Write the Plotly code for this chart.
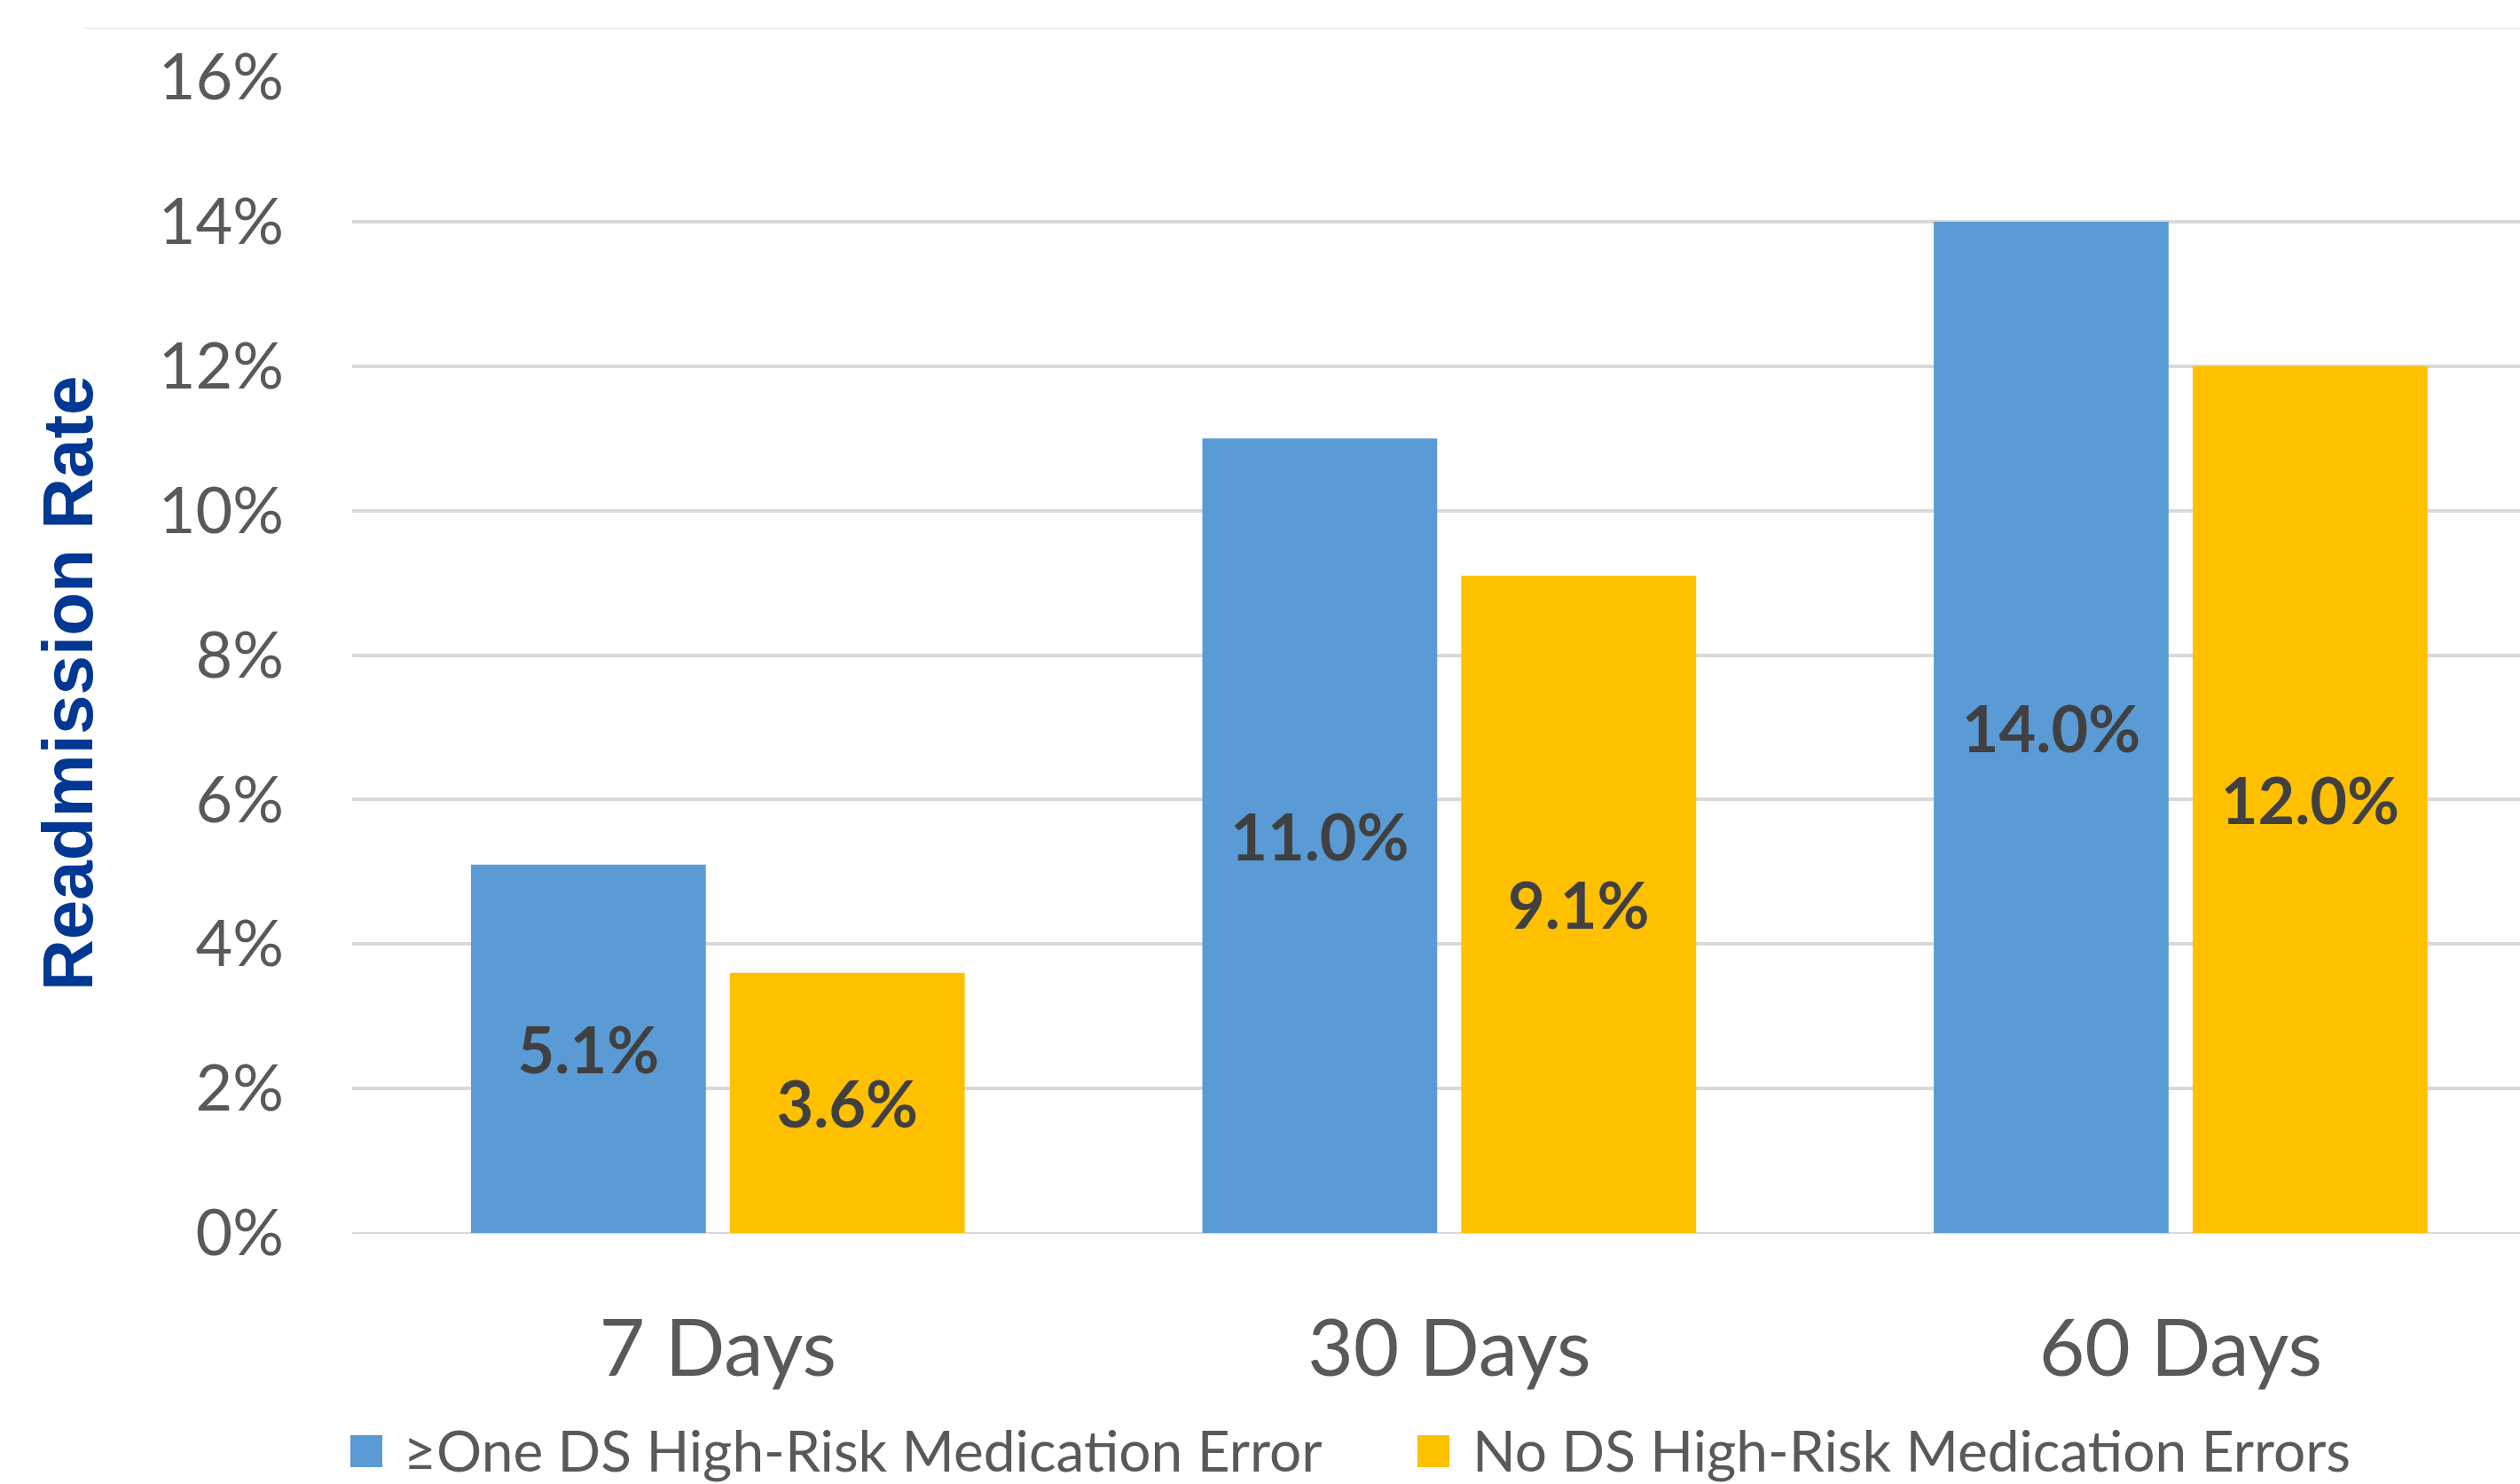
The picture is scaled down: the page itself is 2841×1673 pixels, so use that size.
import plotly.graph_objects as go

# ---- data ----
categories = ["7 Days", "30 Days", "60 Days"]
series_names = ["≥One DS High-Risk Medication Error", "No DS High-Risk Medication Errors"]
series_colors = ["#5B9BD5", "#FFC000"]
error_rates = [0.051, 0.110, 0.140]
no_error_rates = [0.036, 0.091, 0.120]
series_values = [error_rates, no_error_rates]
y_tick_values = [0, 0.02, 0.04, 0.06, 0.08, 0.10, 0.12, 0.14, 0.16]
y_title = "Readmission Rate"

W, H = 2841, 1673
ML, MR, MT, MB = 397, 0, 87, 283
PW = W - ML - MR
PH = H - MT - MB

def px_x(px):
    return (px - ML) / PW

def px_y(py):
    return (H - MB - py) / PH

fig = go.Figure()
for name, color, vals in zip(series_names, series_colors, series_values):
    fig.add_trace(go.Bar(
        x=categories, y=vals, name=name,
        marker=dict(color=color, line=dict(width=0)),
        texttemplate="%{y:.1%}",
        textposition="inside",
        insidetextanchor="middle",
        textangle=0,
        textfont=dict(family="Lato", size=72, color="#404040", weight="bold"),
        showlegend=False,
    ))

fig.update_layout(
    width=W, height=H,
    margin=dict(l=ML, r=MR, t=MT, b=MB, pad=0),
    paper_bgcolor="white", plot_bgcolor="white",
    barmode="group", bargap=0.292, bargroupgap=0.093,
    font=dict(family="Lato", color="#595959"),
    uniformtext=dict(mode=False),
)
fig.update_xaxes(
    range=[-0.5, 2.464], showgrid=False, zeroline=False,
    showline=False, ticks="",
    tickfont=dict(family="Lato", size=89, color="#595959"),
    ticklabelstandoff=71,
)
fig.update_yaxes(
    range=[0, 0.16], tickvals=y_tick_values, tickformat=".0%",
    showgrid=True, gridcolor="#D9D9D9", gridwidth=3.5,
    zeroline=True, zerolinecolor="#D9D9D9", zerolinewidth=2,
    showline=False, ticks="",
    tickfont=dict(family="Lato", size=72, color="#595959"),
    ticklabelstandoff=76,
)

# y-axis title
fig.add_annotation(
    text=y_title, textangle=-90, showarrow=False,
    xref="paper", yref="paper", x=px_x(77), y=px_y(770),
    xanchor="center", yanchor="middle",
    font=dict(family="Liberation Sans", size=80, color="#003893", weight="bold"),
)

# faint chart border at top
fig.add_shape(type="line", xref="paper", yref="paper",
              x0=px_x(95), x1=1, y0=px_y(32), y1=px_y(32),
              line=dict(color="#EEEEEE", width=2))

# legend (manual, large swatches)
legend_swatch_x = [395, 1598]
legend_text_x = [453, 1658]
for name, color, sx, tx in zip(series_names, series_colors, legend_swatch_x, legend_text_x):
    fig.add_shape(type="rect", xref="paper", yref="paper",
                  x0=px_x(sx), x1=px_x(sx + 36), y0=px_y(1618), y1=px_y(1654),
                  fillcolor=color, line=dict(width=0))
    fig.add_annotation(
        text=name, showarrow=False, xref="paper", yref="paper",
        x=px_x(tx), y=px_y(1634), xanchor="left", yanchor="middle",
        font=dict(family="Lato", size=64, color="#595959"),
    )

fig.write_html("out.html")
